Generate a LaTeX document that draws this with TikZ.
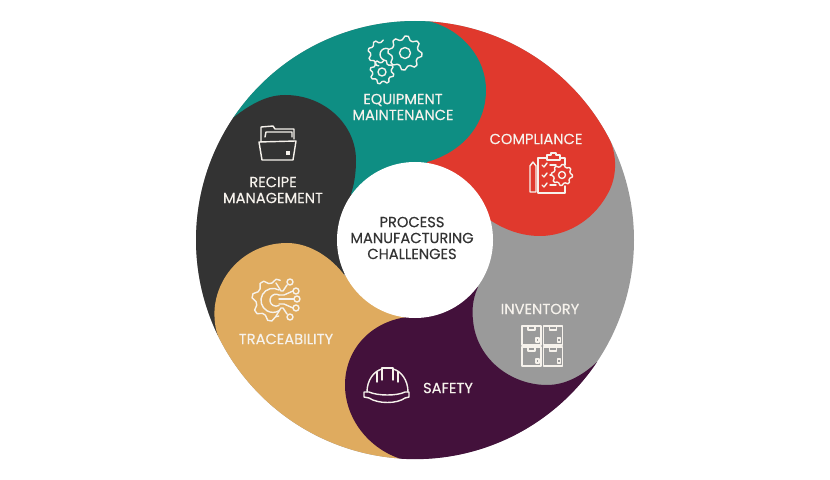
\documentclass[tikz,border=0pt]{standalone}
\usepackage{fontspec}
\setmainfont[FakeBold=0.25]{Poppins}
\usepackage{tikz}

\definecolor{tealfill}{HTML}{0E8E83}
\definecolor{redfill}{HTML}{E0392D}
\definecolor{greyfill}{HTML}{9A9A9A}
\definecolor{plumfill}{HTML}{43113B}
\definecolor{tanfill}{HTML}{DFAB5F}
\definecolor{darkfill}{HTML}{333333}
\definecolor{iconline}{HTML}{F6F2EC}

\tikzset{
  tag/.style={text=iconline,align=center,inner sep=0pt,font=\fontsize{12.5}{13.6}\selectfont},
  icon/.style={draw=iconline,line width=1.2pt,line join=round,line cap=round}
}

% x, y, outer radius, inner radius, start, end, samples
\newcommand{\gearicon}[8][]{
  \draw [icon,#1,shift={(#2,#3)}] plot [domain=#6:#7,samples=#8]
    (\x:{mod(\x+1,45)<23 ? #4 : #5});
}

\begin{document}
\begin{tikzpicture}[x=0.03cm,y=-0.03cm]

  \useasboundingbox (0,0) rectangle (830,480);

  \coordinate (hub) at (415,240);

  \fill [greyfill] (hub) circle [radius=219];

  \fill [redfill] (hub) -- ([shift={(273.9:219)}]hub) arc [start angle=273.9,end angle=333.2,radius=219]
    .. controls (618,160) and (616,180) .. (607,195) .. controls (592,222) and (565,236) .. (540,236)
    .. controls (522,236) and (505,230) .. (490,220) -- cycle;

  \fill [tealfill] (hub) -- ([shift={(214:219)}]hub) arc [start angle=214,end angle=273.9,radius=219]
    .. controls (462,30) and (486,58) .. (486,90) .. controls (486,125) and (462,152) .. (427,162) -- cycle;

  \fill [darkfill] (hub) -- ([shift={(154.3:219)}]hub) arc [start angle=154.3,end angle=214,radius=219]
    .. controls (252,103) and (268,95) .. (285,95) .. controls (325,95) and (356,125) .. (356,160)
    .. controls (356,170) and (355,182) .. (351,194) -- cycle;

  \fill [tanfill] (hub) -- ([shift={(93.9:219)}]hub) arc [start angle=93.9,end angle=154.3,radius=219]
    .. controls (214,325) and (214,312) .. (215,305) .. controls (220,270) and (250,243) .. (287,243)
    .. controls (310,243) and (332,258) .. (345,276) -- cycle;

  \fill [plumfill] (478,287) .. controls (472,300) and (472,312) .. (473,320)
    .. controls (476,358) and (510,385) .. (547,385) .. controls (565,385) and (582,376) .. (597,362)
    arc [start angle=33.8,end angle=93.9,radius=219]
    .. controls (368,448) and (345,418) .. (345,385) .. controls (345,350) and (370,322) .. (407,317) -- cycle;

  \node [circle,fill=white,minimum size=4.68cm,inner sep=0pt] (Hub_disc) at (hub) {};

  \node [align=center,inner sep=0pt,text=darkfill,font=\fontsize{12.5}{13.6}\selectfont] (Hub_text) at (412,238)
    {PROCESS\\MANUFACTURING\\CHALLENGES};
  \node [tag] (Equipment) at (403,107) {EQUIPMENT\\MAINTENANCE};
  \node [tag] (Compliance) at (536,139) {COMPLIANCE};
  \node [tag] (Recipe) at (273,190) {RECIPE\\MANAGEMENT};
  \node [tag] (Trace) at (286,339) {TRACEABILITY};
  \node [tag] (Inventory) at (540,309) {INVENTORY};
  \node [tag] (Safety) at (448,388) {SAFETY};

  \gearicon{405}{53}{17}{13.5}{0}{360}{33}
  \draw [icon] (405,53) circle [radius=5.5];
  \gearicon{382}{72}{12}{9.5}{10}{370}{33}
  \draw [icon] (382,72) circle [radius=4];
  \gearicon{381}{53}{13}{10.5}{100}{280}{17}
  \draw [icon] (384,60) arc [start angle=110,end angle=290,radius=6];

  \draw [icon] (261,142) -- (261,127) -- (273,126) -- (275,129) -- (294,129) -- (294,139);
  \draw [icon] (265,137) -- (266,132) -- (292,132) -- (292,137);
  \draw [icon] (259,142) -- (296,141) -- (293,160) -- (262,160) -- cycle;
  \fill [iconline] (286,151) rectangle (290,155);

  \draw [icon] (547,158) -- (538,158) -- (538,193) -- (565,193) -- (565,186);
  \draw [icon] (560,158) -- (565,158) -- (565,165);
  \draw [icon] (547,160) -- (547,155) -- (551,155) -- (551,153) -- (556,153) -- (556,155) -- (560,155) -- (560,160) -- cycle;
  \draw [icon] (530,192) -- (530,166) -- (533,162) -- (536,166) -- (536,192) -- cycle;
  \foreach \rowy in {165,175,185} {
    \draw [icon] (542,\rowy) -- (544,\rowy+2) -- (547,\rowy-2);
    \draw [icon] (550,\rowy) -- (556,\rowy);
  }
  \gearicon[fill=redfill]{562}{175}{10.5}{8.5}{0}{360}{33}
  \draw [icon] (562,175) circle [radius=3.5];

  \gearicon{273}{300}{21}{17}{70}{290}{20}
  \draw [icon] (279,290) arc [start angle=300,end angle=60,radius=12];
  \draw [icon] (279,295) arc [start angle=300,end angle=60,radius=6];
  \draw [icon] (276,283) -- (281,291) -- (283,291) -- (287,285);
  \draw [icon] (279,295) -- (284,295) -- (293,291);
  \draw [icon] (279,299) -- (294,299);
  \draw [icon] (279,304) -- (284,304) -- (293,308);
  \draw [icon] (276,316) -- (281,308) -- (283,308) -- (287,314);
  \draw [icon] (290,282) circle [radius=3];
  \draw [icon] (296,291) circle [radius=3];
  \draw [icon] (297,299) circle [radius=3];
  \draw [icon] (296,308) circle [radius=3];
  \draw [icon] (290,317) circle [radius=3];

  \draw [icon] (367,392) .. controls (367,380) and (374,371) .. (382,369);
  \draw [icon] (408,392) .. controls (408,380) and (401,371) .. (393,369);
  \draw [icon] (382,380) -- (382,368) -- (393,368) -- (393,380);
  \draw [icon] (377,382) -- (377,372);
  \draw [icon] (398,382) -- (398,372);
  \draw [icon] (369,392) .. controls (378,396) and (397,396) .. (405,392) -- (409,392) -- (409,397) -- (405,398)
    .. controls (397,404) and (378,404) .. (369,398) -- (364,397) -- (364,392) -- cycle;

  \foreach \boxx/\boxy in {522/326,543.5/326,522/347,543.5/347} {
    \draw [icon,shift={(\boxx,\boxy)}] (0,0) rectangle (19,19);
    \draw [icon,shift={(\boxx,\boxy)}] (6,0) -- (6,4) -- (13,4) -- (13,0);
    \draw [icon,shift={(\boxx,\boxy)}] (14,12) rectangle (17,16);
  }

\end{tikzpicture}
\end{document}
